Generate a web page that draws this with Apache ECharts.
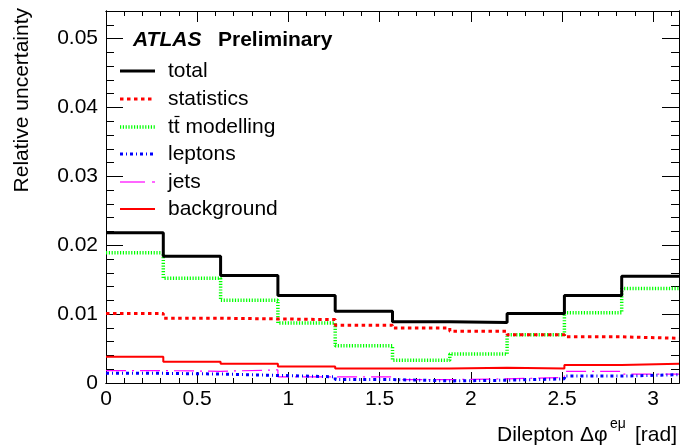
<!DOCTYPE html>
<html><head><meta charset="utf-8">
<script src="https://cdn.jsdelivr.net/npm/echarts@6/dist/echarts.min.js"></script>
<style>html,body{margin:0;padding:0;background:#fff}#c{width:682px;height:448px}</style>
</head><body><div id="c"></div>
<script>
// bin edges of dilepton delta-phi (rad), 10 bins of pi/10
const binEdges = [0, 0.31416, 0.62832, 0.94248, 1.25664, 1.5708, 1.88496, 2.19911, 2.51327, 2.82743, 3.14159];
const total       = [0.0218, 0.0184, 0.0156, 0.0127, 0.0104, 0.0089, 0.0088, 0.0101, 0.0127, 0.0155];
const statistics  = [0.0101, 0.0094, 0.0093, 0.0092, 0.0084, 0.0080, 0.0075, 0.0070, 0.0067, 0.0065];
const ttModelling = [0.0189, 0.0152, 0.0120, 0.0087, 0.0054, 0.0033, 0.0042, 0.0070, 0.0102, 0.0137];
const leptons     = [0.0014, 0.0013, 0.0011, 0.0009, 0.0005, 0.0003, 0.0004, 0.0006, 0.0010, 0.0012];
const jets        = [0.0018, 0.0017, 0.0019, 0.0009, 0.0009, 0.0005, 0.0006, 0.0008, 0.0017, 0.0013];
const background  = [0.0038, 0.0031, 0.0028, 0.0024, 0.0021, 0.0021, 0.0022, 0.0021, 0.0026, 0.0028];
const legendNames = ['total', 'statistics', 'tt modelling', 'leptons', 'jets', 'background'];

const FONT = '"Liberation Sans", Arial, Helvetica, sans-serif';
const XMAX = Math.PI, YMAX = 0.054;

function stepData(vals) {
  return binEdges.map((x, i) => [x, vals[Math.min(i, vals.length - 1)]]);
}

function xAxis(pos, interval, len, labels) {
  return {
    type: 'value', position: pos, min: 0, max: XMAX, interval: interval,
    axisLine: { show: true, onZero: false, lineStyle: { color: '#000', width: 1 } },
    axisTick: { show: true, inside: true, length: len, lineStyle: { color: '#000', width: 1 } },
    axisLabel: { show: labels, showMaxLabel: false, margin: 6, color: '#000', fontSize: 21, fontFamily: FONT },
    splitLine: { show: false }
  };
}
function yAxis(pos, interval, len, labels) {
  return {
    type: 'value', position: pos, min: 0, max: YMAX, interval: interval,
    axisLine: { show: true, onZero: false, lineStyle: { color: '#000', width: 1 } },
    axisTick: { show: true, inside: true, length: len, lineStyle: { color: '#000', width: 1 } },
    axisLabel: { show: labels, showMaxLabel: false, margin: 8, color: '#000', fontSize: 21, fontFamily: FONT },
    splitLine: { show: false }
  };
}

const styles = [
  { color: '#000000', width: 3, type: 'solid' },
  { color: '#ff0000', width: 3, type: [3.5, 3.5] },
  { color: '#00ff00', width: 3.5, type: [1.2, 1.6] },
  { color: '#0000ff', width: 3, type: [3, 3, 1, 3] },
  { color: '#ff00ff', width: 1.2, type: [20, 6, 2, 6] },
  { color: '#ff0000', width: 2, type: 'solid' }
];
const dataSets = [total, statistics, ttModelling, leptons, jets, background];

const series = dataSets.map((d, i) => ({
  name: legendNames[i], type: 'line', step: 'end', showSymbol: false, symbol: 'none',
  xAxisIndex: 0, yAxisIndex: 0, data: stepData(d), animation: false,
  lineStyle: { color: styles[i].color, width: styles[i].width, type: styles[i].type, cap: 'butt' },
  z: 10 - i
}));

const legendY = [71, 99, 127, 154, 182, 209];
const graphic = [];
legendNames.forEach((n, i) => {
  const s = styles[i];
  if (i === 4) {
    graphic.push({ type: 'line', shape: { x1: 120, y1: legendY[i], x2: 145, y2: legendY[i] }, style: { stroke: s.color, lineWidth: s.width } });
    graphic.push({ type: 'line', shape: { x1: 152, y1: legendY[i], x2: 155, y2: legendY[i] }, style: { stroke: s.color, lineWidth: s.width } });
  } else {
    graphic.push({ type: 'line', shape: { x1: 120, y1: legendY[i], x2: 155, y2: legendY[i] },
      style: { stroke: s.color, lineWidth: s.width, lineDash: s.type === 'solid' ? null : s.type } });
  }
  graphic.push({ type: 'text', x: 168, y: legendY[i], style: { text: n, font: '21px ' + FONT, fill: '#000', verticalAlign: 'middle', align: 'left' } });
});
// bar over the second t of "tt"
graphic.push({ type: 'line', shape: { x1: 174.5, y1: 116.5, x2: 179.5, y2: 116.5 }, style: { stroke: '#000', lineWidth: 1.2 } });
graphic.push({ type: 'text', x: 133, y: 40, style: { text: 'ATLAS', font: 'italic bold 21px ' + FONT, fill: '#000', verticalAlign: 'middle' } });
graphic.push({ type: 'text', x: 218, y: 40, style: { text: 'Preliminary', font: 'bold 21px ' + FONT, fill: '#000', verticalAlign: 'middle' } });
// axis titles
graphic.push({ type: 'text', x: 22, y: 8, rotation: Math.PI / 2, style: { text: 'Relative uncertainty', font: '21px ' + FONT, fill: '#000', align: 'right', verticalAlign: 'middle' } });
graphic.push({ type: 'text', x: 497, y: 435, style: { text: 'Dilepton \u0394\u03c6', font: '21px ' + FONT, fill: '#000', align: 'left', verticalAlign: 'middle' } });
graphic.push({ type: 'text', x: 610, y: 424, style: { text: 'e\u03bc', font: '14px ' + FONT, fill: '#000', align: 'left', verticalAlign: 'middle' } });
graphic.push({ type: 'text', x: 677, y: 435, style: { text: '[rad]', font: '21px ' + FONT, fill: '#000', align: 'right', verticalAlign: 'middle' } });

const chart = echarts.init(document.getElementById('c'), null, { renderer: 'canvas' });
chart.setOption({
  animation: false,
  backgroundColor: '#fff',
  grid: { left: 106, right: 3, top: 11, bottom: 65, containLabel: false },
  xAxis: [
    xAxis('bottom', 0.5, 11, true),
    xAxis('top', 0.5, 11, false),
    xAxis('bottom', 0.1, 5, false),
    xAxis('top', 0.1, 5, false)
  ],
  yAxis: [
    yAxis('left', 0.01, 17, true),
    yAxis('right', 0.01, 17, false),
    yAxis('left', 0.002, 8, false),
    yAxis('right', 0.002, 8, false)
  ],
  series: series,
  graphic: graphic
});
</script></body></html>
